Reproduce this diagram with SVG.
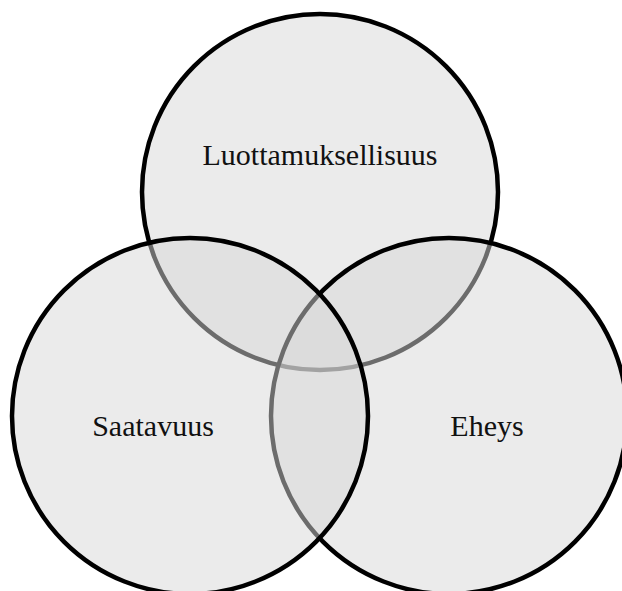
<svg xmlns="http://www.w3.org/2000/svg" width="622" height="591" viewBox="0 0 622 591">
  <style>
    .set { fill: #d8d8d8; fill-opacity: 0.5; stroke: #000; stroke-width: 4.5; }
    .label { font-family: "Liberation Serif", "Times New Roman", serif; font-size: 30px; fill: #111; text-anchor: middle; }
  </style>
  <rect width="622" height="591" fill="#ffffff"/>
  <!-- Three overlapping sets; later circles tint the outlines beneath them -->
  <g id="luottamuksellisuus">
    <circle class="set" cx="320" cy="192" r="178"/>
    <text class="label" x="320" y="165">Luottamuksellisuus</text>
  </g>
  <g id="eheys">
    <circle class="set" cx="449" cy="416" r="178"/>
    <text class="label" x="487" y="436">Eheys</text>
  </g>
  <g id="saatavuus">
    <circle class="set" cx="190" cy="416" r="178"/>
    <text class="label" x="153" y="436">Saatavuus</text>
  </g>
</svg>
